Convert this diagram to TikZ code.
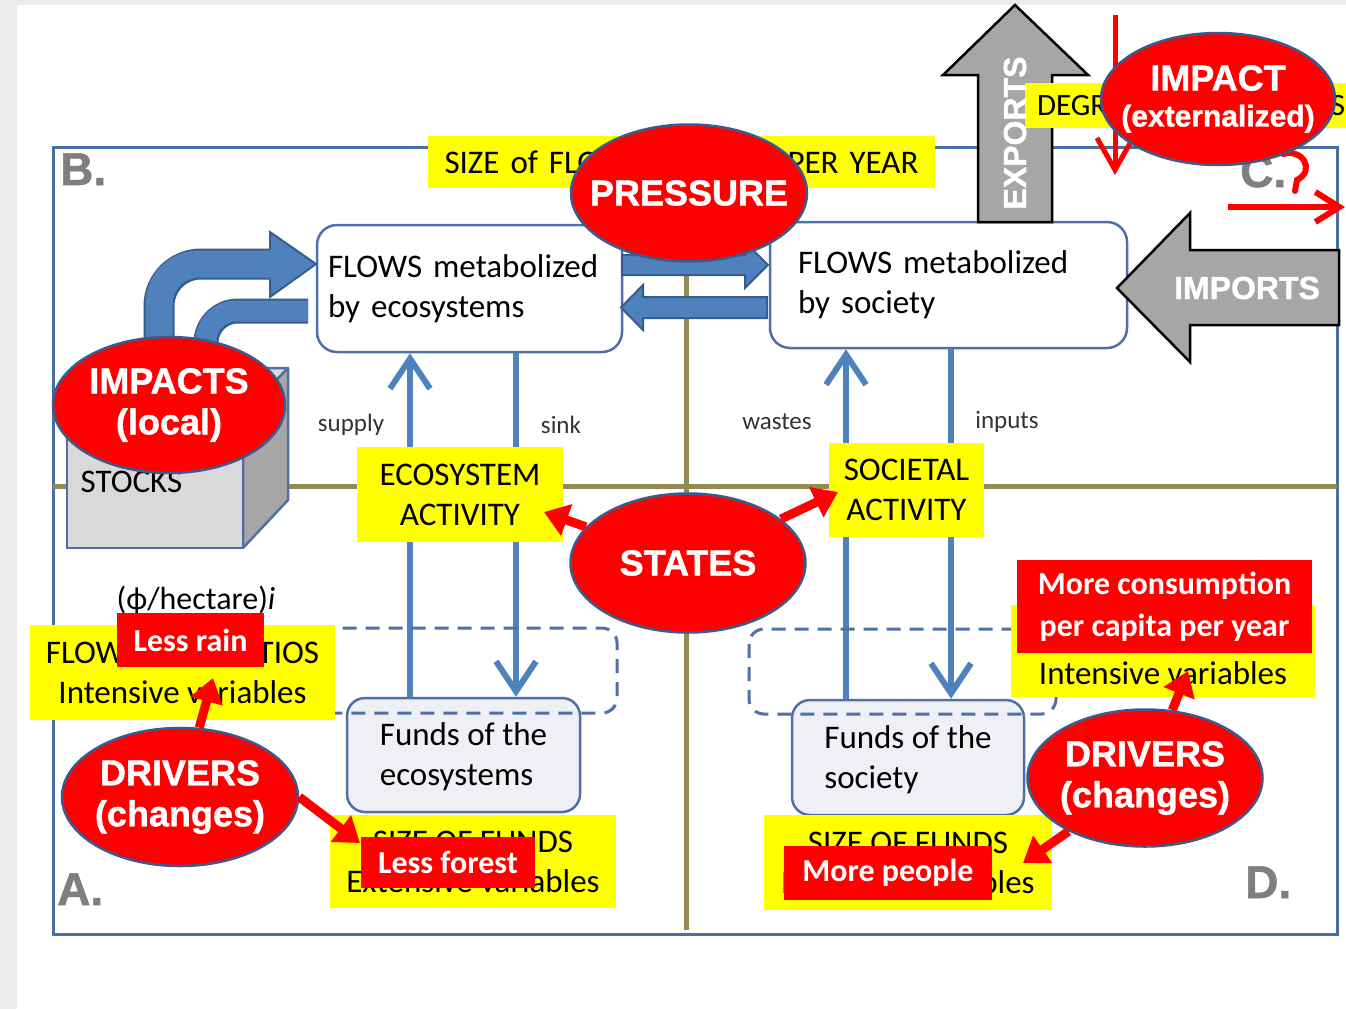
\documentclass[tikz,border=0pt]{standalone}
\usepackage{fontspec}
\setmainfont{Carlito}
\newfontfamily\heavy[BoldFeatures={FakeBold=1.2}]{Liberation Sans}
\usetikzlibrary{shapes.geometric,arrows.meta}

\definecolor{framebl}{HTML}{4A6FA5}
\definecolor{olive}{HTML}{938953}
\definecolor{flowbl}{HTML}{4F81BD}
\definecolor{flowbd}{HTML}{385D8A}
\definecolor{hiyel}{HTML}{FFFF00}
\definecolor{alarm}{HTML}{FF0000}
\definecolor{ringbl}{HTML}{3C5A8E}
\definecolor{tradegr}{HTML}{A6A6A6}
\definecolor{lettergr}{HTML}{7F7F7F}
\definecolor{fundgr}{HTML}{EEF0F3}
\definecolor{boxbd}{HTML}{4F6FA8}
\definecolor{outergr}{HTML}{EBEBEB}

% zero-width centred text, so that ellipse sizes are set by their minimum size only
\newcommand\zw[1]{\makebox[0pt]{#1}}

\begin{document}
\begin{tikzpicture}[x=1pt,y=-1pt,
  flowbox/.style={draw=boxbd, line width=2.5, rounded corners=20, fill=white, align=left, inner ysep=0, font=\fontsize{33}{40}\selectfont},
  fundbox/.style={flowbox, fill=fundgr, rounded corners=18, inner xsep=0},
  hilite/.style={fill=hiyel, align=center, inner sep=0, font=\fontsize{33}{40}\selectfont},
  warnbox/.style={fill=alarm, text=white, align=center, inner sep=0, font=\bfseries\fontsize{32}{42}\selectfont},
  bubble/.style={ellipse, fill=alarm, draw=ringbl, line width=2.5, text=white, inner sep=0, align=center, font=\heavy\bfseries\fontsize{36}{41}\selectfont},
  flowline/.style={draw=flowbl, line width=6},
  barbtip/.style={-{Straight Barb[length=30pt,width=40pt]}},
  redarrow/.style={draw=alarm, line width=9, -{Triangle[length=24pt,width=32pt]}},
  blockarrow/.style={fill=flowbl, draw=flowbd, line width=2, line join=miter},
  tradearrow/.style={fill=tradegr, draw=black, line width=2.5, line join=miter},
  cornerletter/.style={text=lettergr, inner sep=0, anchor=base west, font=\heavy\bfseries\fontsize{46}{50}\selectfont},
  smalllabel/.style={inner sep=0, text=black!80, font=\fontsize{25}{30}\selectfont},
  funddash/.style={draw=boxbd, line width=3, dash pattern=on 14pt off 9pt, rounded corners=15}
]
\useasboundingbox (0,0) rectangle (1346,1009);
\fill[outergr] (0,0) rectangle (1346,1009);
\fill[white] (17,5) rectangle (1346,1009);

% outer frame and quadrant axes
\draw[framebl, line width=3] (53,147) rectangle (1337,934);
\draw[olive, line width=5] (53,486) -- (1337,486);
\draw[olive, line width=5] (686,147) -- (686,930);

% flow boxes and fund boxes
\node[flowbox, text width=283, inner xsep=11, minimum height=127] (flowsE) at (469.5,288.5) {FLOWS metabolized\\by ecosystems};
\node[flowbox, text width=301, inner xsep=28, minimum height=126] (flowsS) at (948.5,285) {FLOWS metabolized\\by society};
\node[fundbox, minimum width=233, minimum height=114] (fundsE) at (463.5,755) {\rule{0pt}{27pt}Funds of the\\ecosystems};
\node[fundbox, minimum width=232, minimum height=115] (fundsS) at (908,757.5) {\rule{0pt}{27pt}Funds of the\\society};

% vertical flows between funds and flows
\coordinate (xsup) at (410,0);
\coordinate (xsink) at (516,0);
\coordinate (xwaste) at (846,0);
\coordinate (xinput) at (951,0);
\draw[flowline, barbtip] (fundsE.north -| xsup) -- (flowsE.south -| xsup);
\draw[flowline, barbtip] (flowsE.south -| xsink) -- (fundsE.north -| xsink);
\draw[flowline, barbtip] (fundsS.north -| xwaste) -- (flowsS.south -| xwaste);
\draw[flowline, barbtip] (flowsS.south -| xinput) -- (fundsS.north -| xinput);

\node[smalllabel] (lsupply) at (351,425) {supply};
\node[smalllabel] (lsink) at (561,425) {sink};
\node[smalllabel] (lwastes) at (777,422) {wastes};
\node[smalllabel] (linputs) at (1007,422) {inputs};

% exchange between the two flow boxes
\draw[blockarrow] (622,255) -- (745,255) -- (745,242) -- (768,265) -- (745,288) -- (745,275) -- (622,275) -- cycle;
\draw[blockarrow] (767,297) -- (643,297) -- (643,285) -- (621,307.5) -- (643,330) -- (643,318) -- (767,318) -- cycle;

% dashed outlines around the funds
\draw[funddash] (300,628) rectangle (617,713);
\draw[funddash] (749,629) rectangle (1056,714);

% bent arrows between the stocks and the ecosystem flows
\draw[flowbd, line width=31, rounded corners=42] (159,350) -- (159,264) -- (272,264);
\draw[flowbl, line width=27, rounded corners=40] (159,352) -- (159,264) -- (273,264);
\fill[flowbl] (270,232) -- (316,264) -- (270,297) -- cycle;
\draw[flowbd, line width=2, line join=miter] (270,249) -- (270,232) -- (316,264) -- (270,297) -- (270,279);
\draw[flowbd, line width=25, rounded corners=32] (308,311) -- (206,311) -- (206,350);
\draw[flowbl, line width=21, rounded corners=30] (308,311) -- (206,311) -- (206,352);

% stocks cube
\filldraw[fill=gray!30, draw=boxbd, line width=2.5, line join=round] (67,415) -- (112,368) -- (288,368) -- (243,415) -- cycle;
\filldraw[fill=tradegr, draw=boxbd, line width=2.5, line join=round] (243,415) -- (288,368) -- (288,500) -- (243,548) -- cycle;
\filldraw[fill=gray!30, draw=boxbd, line width=2.5] (67,415) rectangle (243,548);
\node[inner sep=0, font=\fontsize{33}{40}\selectfont] (stocks) at (131.5,482) {STOCKS};

% yellow variable tags
\node[hilite, minimum width=206, minimum height=95] (ecoAct) at (460,494.5) {ECOSYSTEM\\ACTIVITY};
\node[hilite, minimum width=155, minimum height=94] (socAct) at (906.5,490) {SOCIETAL\\ACTIVITY};
\node[hilite, minimum width=305, minimum height=95] (ratioE) at (182.5,672.5) {FLOW/FUND RATIOS\\Intensive variables};
\node[hilite, minimum width=286, minimum height=93] (sizeE) at (473,861.5) {SIZE OF FUNDS\\Extensive variables};
\node[hilite, minimum width=288, minimum height=95] (sizeS) at (908,862.5) {SIZE OF FUNDS\\Extensive variables};
\node[hilite, minimum width=304, minimum height=92] (ratioS) at (1163,651) {\strut\\Intensive variables};
\node[hilite, align=left, text width=474, inner xsep=16.5, minimum height=52] (sizeFlow) at (681.5,162) {SIZE of FLOWS\hfill PER YEAR};

\node[inner sep=0, font=\fontsize{32}{38}\selectfont] (perha) at (196,600) {(ϕ/hectare)\textit{i}};

% red change notes
\node[warnbox, minimum width=147, minimum height=54] (rain) at (190.5,640) {Less rain};
\node[warnbox, minimum width=174, minimum height=51] (forest) at (448,862.5) {Less forest};
\node[warnbox, minimum width=208, minimum height=54] (people) at (888,873) {More people};
\node[warnbox, minimum width=295, minimum height=93] (consume) at (1164.5,606.5) {More consumption\\per capita per year};

% DPSIR ellipses
\node[bubble, minimum width=232, minimum height=136] (impL) at (169,405) {\zw{IMPACTS}\\\zw{(local)}};
\node[bubble, minimum width=236, minimum height=137] (pressure) at (689,193) {\zw{PRESSURE}};
\node[bubble, minimum width=235, minimum height=139] (states) at (688,563) {\zw{STATES}};
\node[bubble, minimum width=236, minimum height=138] (drvE) at (180,797) {\zw{DRIVERS}\\\zw{(changes)}};
\node[bubble, minimum width=235, minimum height=137] (drvS) at (1145,778) {\zw{DRIVERS}\\\zw{(changes)}};

% red pointers
\coordinate (ecoTip) at (544,512);
\coordinate (socTip) at (838,492);
\coordinate (rainTip) at (213,678);
\coordinate (forestTip) at (360,843);
\coordinate (consTip) at (1188,671);
\coordinate (peopleTip) at (1023,863);
\draw[redarrow] (states) -- (ecoTip);
\draw[redarrow] (states) -- (socTip);
\draw[redarrow] (drvE) -- (rainTip);
\draw[redarrow] (drvE.east) -- (forestTip);
\draw[redarrow] (drvS) -- (consTip);
\draw[redarrow] (drvS) -- (peopleTip);

% trade arrows
\draw[tradearrow] (978,222) -- (978,75) -- (943,75) -- (1015,5) -- (1088,75) -- (1052,75) -- (1052,222) -- cycle;
\draw[tradearrow] (1339,250) -- (1190,250) -- (1190,213) -- (1117,288) -- (1190,362) -- (1190,325) -- (1339,325) -- cycle;
\node[inner sep=0, text=white, font=\heavy\bfseries\fontsize{32}{36}\selectfont] (imports) at (1247,288) {IMPORTS};

% externalized impact
\draw[alarm, line width=5, -{Straight Barb[length=32pt,width=36pt]}] (1115,15) -- (1115,175);
\draw[alarm, line width=6, -{Straight Barb[length=24pt,width=30pt]}] (1228,207) -- (1345,207);
\node[hilite, align=left, text width=308, inner xsep=12, minimum height=45, font=\fontsize{31}{36}\selectfont] (degr) at (1191,105.5) {DEGRADATION\hfill S};
\node[inner sep=0, rotate=90, text=white, font=\heavy\bfseries\fontsize{32}{36}\selectfont] (exports) at (1015,133) {EXPORTS};
\node[cornerletter] (lc) at (1240,187) {C.};
\draw[alarm, line width=6, line cap=round] (1283,154) .. controls (1302,148) and (1316,170) .. (1297,180) -- (1295,191);
\node[bubble, minimum width=234, minimum height=132] (impX) at (1218,99) {\zw{IMPACT}\\[-5pt]\zw{\fontsize{30}{34}\selectfont (externalized)}};

% quadrant letters
\node[cornerletter] (lb) at (60,185) {B.};
\node[cornerletter] (la) at (57,905) {A.};
\node[cornerletter] (ld) at (1245,898) {D.};
\end{tikzpicture}
\end{document}
